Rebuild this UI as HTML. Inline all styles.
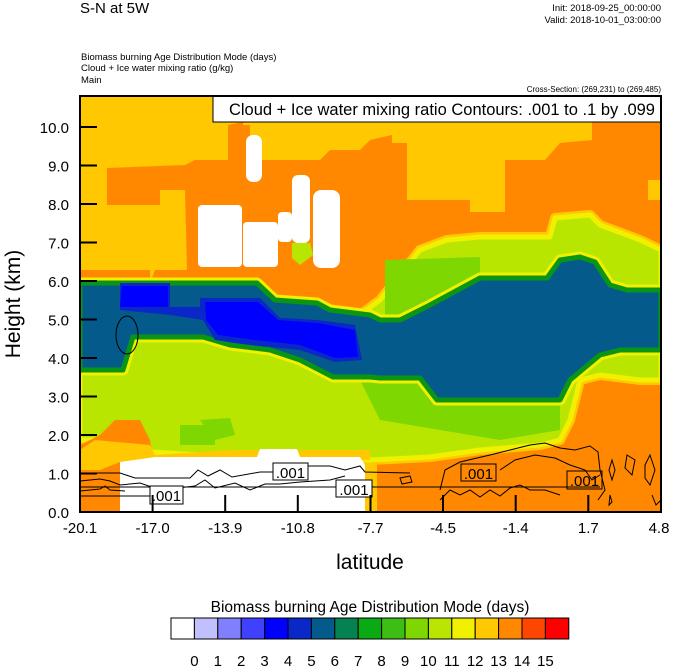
<!DOCTYPE html>
<html><head><meta charset="utf-8"><style>
html,body{margin:0;padding:0;background:#fff;}
svg{display:block;font-family:"Liberation Sans",sans-serif;}
</style></head><body>
<svg width="674" height="668" viewBox="0 0 674 668" xmlns="http://www.w3.org/2000/svg">
<text x="80" y="13" font-size="15">S-N at 5W</text>
<text x="661" y="11" font-size="9.5" text-anchor="end">Init: 2018-09-25_00:00:00</text>
<text x="661" y="23" font-size="9.5" text-anchor="end">Valid: 2018-10-01_03:00:00</text>
<text x="81" y="60" font-size="9.5">Biomass burning Age Distribution Mode   (days)</text>
<text x="81" y="71" font-size="9.5">Cloud + Ice water mixing ratio   (g/kg)</text>
<text x="81" y="83" font-size="9.5">Main</text>
<text x="661" y="92" font-size="8" text-anchor="end">Cross-Section: (269,231) to (269,485)</text>
<defs><clipPath id="c"><rect x="80" y="96" width="581" height="416"/></clipPath></defs>
<g clip-path="url(#c)">
<rect x="80" y="96" width="581" height="416" fill="#FF8800"/>
<polygon fill="#FFC800" points="80,96 600,96 592,96 592,140 560,143 545,160 505,160 505,212 470,212 470,200 407,200 407,143 392,143 392,135 370,140 360,150 330,150 320,160 262,160 250,125 243,125 243,122 228,125 228,160 195,160 185,165 107,168 107,205 160,205 160,190 185,190 187,270 155,270 150,283 120,283 80,283"/>
<polygon fill="#FFC800" points="250,125 262,125 262,160 250,160"/>
<polygon fill="#FFC800" points="648,180 661,180 661,200 648,200"/>
<rect x="80" y="270" width="70" height="14" fill="#FF8800"/>
<g stroke-linejoin="round">
<polygon fill="#B8E600" stroke="#FFC800" stroke-width="10" points="80,300 120,290 200,300 260,300 320,310 360,315 380,300 400,275 420,250 447,240 480,237 550,237 555,218 590,215 600,225 640,240 661,250 661,380 640,380 600,375 580,380 570,420 560,440 540,445 480,450 430,457 370,460 200,455 120,450 95,440 80,440"/>
<polygon fill="#B8E600" stroke="#F0F000" stroke-width="5" points="80,300 120,290 200,300 260,300 320,310 360,315 380,300 400,275 420,250 447,240 480,237 550,237 555,218 590,215 600,225 640,240 661,250 661,380 640,380 600,375 580,380 570,420 560,440 540,445 480,450 430,457 370,460 200,455 120,450 95,440 80,440"/>
</g>
<polygon fill="#7ED700" points="385,260 480,257 480,300 430,320 385,320"/>
<polygon fill="#7ED700" points="360,380 560,390 560,430 500,440 440,430 380,420"/>
<polygon fill="#7ED700" points="180,425 215,425 215,445 180,445"/>
<polygon fill="#7ED700" points="200,420 230,418 235,435 215,440"/>
<polygon fill="#FF8800" points="80,445 100,435 115,420 140,420 150,440 155,470 120,470 120,512 80,512"/>
<polygon fill="#FFC800" points="80,450 95,440 150,445 155,455 230,450 370,450 370,460 120,462 100,470 80,470"/>
<g stroke-linejoin="round">
<polygon fill="#0A9614" stroke="#F0F000" stroke-width="11" points="80,283 257,283 275,300 317,303 330,310 370,315 380,320 400,320 430,305 480,278 547,278 560,260 580,257 595,262 610,285 627,290 661,290 661,350 620,350 600,355 570,380 560,400 540,400 500,400 480,400 437,400 420,378 380,378 370,377 333,377 300,360 270,350 230,345 203,337 133,337 123,370 80,370"/>
<polygon fill="#055A8C" stroke="#0A9614" stroke-width="5" points="80,283 257,283 275,300 317,303 330,310 370,315 380,320 400,320 430,305 480,278 547,278 560,260 580,257 595,262 610,285 627,290 661,290 661,350 620,350 600,355 570,380 560,400 540,400 500,400 480,400 437,400 420,378 380,378 370,377 333,377 300,360 270,350 230,345 203,337 133,337 123,370 80,370"/>
</g>
<polygon fill="#0A28C8" points="120,283 170,283 170,307 200,307 200,298 260,298 280,318 318,320 355,325 362,360 335,362 300,350 250,345 215,340 203,320 170,315 120,310"/>
<polygon fill="#0000FF" points="122,286 168,286 168,307 120,307"/>
<polygon fill="#0000FF" points="205,302 258,302 278,320 318,323 355,330 358,357 335,358 300,345 255,340 218,335 206,320"/>
<g fill="#FFFFFF">
<rect x="246" y="135" width="16" height="47" rx="7"/>
<rect x="198" y="205" width="44" height="62" rx="4"/>
<rect x="243" y="222" width="35" height="45" rx="4"/>
<rect x="278" y="212" width="14" height="30" rx="4"/>
<rect x="292" y="175" width="18" height="68" rx="6"/>
<rect x="313" y="190" width="27" height="78" rx="8"/>
</g>
<polygon fill="#B8E600" points="292,243 310,243 313,255 300,265 292,258"/>
<polygon fill="#FFFFFF" points="120,462 155,457 257,457 260,449 297,449 300,457 360,457 365,465 365,512 120,512"/>
<rect x="365" y="463" width="12" height="49" fill="#FFC800"/>
<g fill="none" stroke="#000" stroke-width="1">
<path d="M80,473 L120,473 L135,478 L190,478 L198,470 L208,476 L220,470 L232,477 L260,472 L290,472 L300,466 L330,466 L345,470 L360,466 L365,472 L410,473"/>
<path d="M80,487 L600,487"/>
<path d="M80,496 L150,496"/>
<path d="M80,481 L100,479 L110,481 L120,485 L140,483 L160,490 L195,486 L205,480 L215,488 L235,483 L250,490 L265,484 L280,484 L300,482 L330,480 L345,476"/>
<path d="M80,491 L100,489 L105,486 L110,490 L125,491"/>
<path d="M440,490 L445,470 L460,462 L490,455 L510,450 L530,445 L545,443 L560,448 L575,450 L590,446 L598,452 L600,470 L605,490 L598,500"/>
<path d="M500,470 L515,460 L535,455 L555,458 L570,465 L585,470 L592,480 L600,475"/>
<path d="M440,500 L450,490 L460,495 L470,490 L480,497 L490,490 L500,496 L510,488 L520,485 L530,490 L545,490 L560,495"/>
<path d="M612,460 L615,470 L612,480 L609,470 Z"/>
<path d="M627,455 L635,460 L632,475 L625,468 Z"/>
<path d="M645,465 L650,455 L655,470 L650,485 L645,478 Z"/>
<path d="M652,495 L656,505 L661,500"/>
<path d="M610,495 L612,502 L609,505 Z"/>
<ellipse cx="127" cy="335" rx="11" ry="19"/>
<path d="M400,478 L410,476 L412,482 L402,484 Z"/>
</g>
<g font-size="15" fill="#000">
<rect x="150" y="486" width="33" height="18" fill="#fff" stroke="#000"/><text x="166.5" y="501" text-anchor="middle">.001</text>
<rect x="273" y="463" width="35" height="17" fill="#fff" stroke="#000"/><text x="290.5" y="478" text-anchor="middle">.001</text>
<rect x="336" y="480" width="36" height="17" fill="#fff" stroke="#000"/><text x="354" y="495" text-anchor="middle">.001</text>
<rect x="461" y="464" width="35" height="17" fill="none" stroke="#000"/><text x="478.5" y="479" text-anchor="middle">.001</text>
<rect x="567" y="471" width="35" height="18" fill="none" stroke="#000"/><text x="584.5" y="486" text-anchor="middle">.001</text>
</g>
</g>
<rect x="213" y="96" width="448" height="26" fill="#fff" stroke="#000" stroke-width="1"/>
<text x="655" y="115" font-size="16.5" text-anchor="end">Cloud + Ice water mixing ratio Contours: .001 to .1 by .099</text>
<rect x="80" y="96" width="581" height="416" fill="none" stroke="#000" stroke-width="2"/>
<g stroke="#000" stroke-width="2">
<line x1="80" y1="127" x2="97" y2="127"/><line x1="80" y1="165.5" x2="97" y2="165.5"/><line x1="80" y1="204" x2="97" y2="204"/>
<line x1="80" y1="242.5" x2="97" y2="242.5"/><line x1="80" y1="281" x2="97" y2="281"/><line x1="80" y1="319.5" x2="97" y2="319.5"/>
<line x1="80" y1="358" x2="97" y2="358"/><line x1="80" y1="396.5" x2="97" y2="396.5"/><line x1="80" y1="435" x2="97" y2="435"/>
<line x1="80" y1="473.5" x2="97" y2="473.5"/>
<line x1="152.6" y1="512" x2="152.6" y2="495"/><line x1="225.2" y1="512" x2="225.2" y2="495"/><line x1="297.8" y1="512" x2="297.8" y2="495"/>
<line x1="370.5" y1="512" x2="370.5" y2="495"/><line x1="443" y1="512" x2="443" y2="495"/><line x1="515.7" y1="512" x2="515.7" y2="495"/>
<line x1="588.3" y1="512" x2="588.3" y2="495"/>
</g>
<g font-size="15" text-anchor="end">
<text x="69" y="133">10.0</text><text x="69" y="171.5">9.0</text><text x="69" y="210">8.0</text><text x="69" y="248.5">7.0</text>
<text x="69" y="287">6.0</text><text x="69" y="325.5">5.0</text><text x="69" y="364">4.0</text><text x="69" y="402.5">3.0</text>
<text x="69" y="441">2.0</text><text x="69" y="479.5">1.0</text><text x="69" y="518">0.0</text>
</g>
<g font-size="15" text-anchor="middle">
<text x="80" y="533">-20.1</text><text x="152.6" y="533">-17.0</text><text x="225.2" y="533">-13.9</text><text x="297.8" y="533">-10.8</text>
<text x="370.5" y="533">-7.7</text><text x="443" y="533">-4.5</text><text x="515.7" y="533">-1.4</text><text x="588.3" y="533">1.7</text><text x="659" y="533">4.8</text>
</g>
<text x="370" y="569" font-size="21" text-anchor="middle">latitude</text>
<text transform="translate(20,304) rotate(-90)" font-size="21" text-anchor="middle">Height (km)</text>
<text x="370" y="612" font-size="15.5" text-anchor="middle">Biomass burning Age Distribution Mode  (days)</text>
<g stroke="#000" stroke-width="1">
<rect x="171" y="618" width="23.4" height="21" fill="#FFFFFF"/>
<rect x="194.4" y="618" width="23.4" height="21" fill="#C0C0FF"/>
<rect x="217.8" y="618" width="23.4" height="21" fill="#8080FF"/>
<rect x="241.2" y="618" width="23.4" height="21" fill="#4040FF"/>
<rect x="264.6" y="618" width="23.4" height="21" fill="#0000FF"/>
<rect x="288" y="618" width="23.4" height="21" fill="#0A28C8"/>
<rect x="311.4" y="618" width="23.4" height="21" fill="#055A8C"/>
<rect x="334.8" y="618" width="23.4" height="21" fill="#058250"/>
<rect x="358.2" y="618" width="23.4" height="21" fill="#0AAA14"/>
<rect x="381.6" y="618" width="23.4" height="21" fill="#3CBE14"/>
<rect x="405" y="618" width="23.4" height="21" fill="#7ED700"/>
<rect x="428.4" y="618" width="23.4" height="21" fill="#B8E600"/>
<rect x="451.8" y="618" width="23.4" height="21" fill="#F0F000"/>
<rect x="475.2" y="618" width="23.4" height="21" fill="#FFC800"/>
<rect x="498.6" y="618" width="23.4" height="21" fill="#FF8800"/>
<rect x="522" y="618" width="23.4" height="21" fill="#FF4600"/>
<rect x="545.4" y="618" width="23.4" height="21" fill="#FF0000"/>
</g>
<g font-size="15" text-anchor="middle">
<text x="194.4" y="666">0</text><text x="217.8" y="666">1</text><text x="241.2" y="666">2</text><text x="264.6" y="666">3</text>
<text x="288" y="666">4</text><text x="311.4" y="666">5</text><text x="334.8" y="666">6</text><text x="358.2" y="666">7</text>
<text x="381.6" y="666">8</text><text x="405" y="666">9</text><text x="428.4" y="666">10</text><text x="451.8" y="666">11</text>
<text x="475.2" y="666">12</text><text x="498.6" y="666">13</text><text x="522" y="666">14</text><text x="545.4" y="666">15</text>
</g>
</svg>
</body></html>
